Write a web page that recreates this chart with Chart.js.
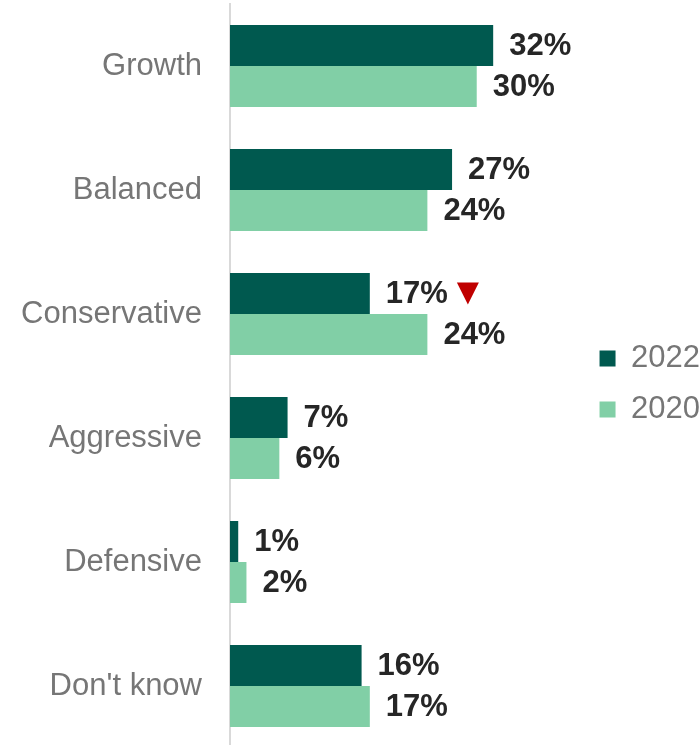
<!DOCTYPE html>
<html>
<head>
<meta charset="utf-8">
<title>Investment profile</title>
<script src="https://cdn.jsdelivr.net/npm/chart.js@4.4.1/dist/chart.umd.min.js"></script>
<style>
  html, body { margin: 0; padding: 0; background: #fff; overflow: hidden; }
  #wrap { position: relative; width: 710px; height: 750px; }
</style>
</head>
<body>
<div id="wrap"><canvas id="profileChart"></canvas></div>
<script>
// Categories and survey results (%)
const categories = ['Growth', 'Balanced', 'Conservative', 'Aggressive', 'Defensive', "Don't know"];
const values2022 = [32, 27, 17, 7, 1, 16];
const values2020 = [30, 24, 24, 6, 2, 17];
// significant change markers for 2022 vs 2020
const change2022 = ['', '', 'down', '', '', ''];

const FONT = 'Arial, "Liberation Sans", sans-serif';

// Value labels at the end of each bar, plus the red down arrow
const valueLabels = {
  id: 'valueLabels',
  afterDatasetsDraw(chart) {
    const ctx = chart.ctx;
    ctx.save();
    ctx.font = 'bold 31px ' + FONT;
    ctx.fillStyle = '#262626';
    ctx.textBaseline = 'middle';
    ctx.textAlign = 'left';
    chart.data.datasets.forEach((ds, di) => {
      const meta = chart.getDatasetMeta(di);
      meta.data.forEach((bar, i) => {
        const txt = ds.data[i] + '%';
        const x = bar.x + 16;
        ctx.fillText(txt, x, bar.y + 1);
        if (ds.markers && ds.markers[i] === 'down') {
          const tx = x + ctx.measureText(txt).width + 9;
          ctx.save();
          ctx.fillStyle = '#C00000';
          ctx.beginPath();
          ctx.moveTo(tx, bar.y - 11);
          ctx.lineTo(tx + 22, bar.y - 11);
          ctx.lineTo(tx + 11, bar.y + 11);
          ctx.closePath();
          ctx.fill();
          ctx.restore();
        }
      });
    });
    ctx.restore();
  }
};

const ctx = document.getElementById('profileChart').getContext('2d');
const profileChart = new Chart(ctx, {
  type: 'bar',
  data: {
    labels: categories,
    datasets: [{
      label: '2022',
      data: values2022,
      markers: change2022,
      backgroundColor: '#00594F',
      categoryPercentage: 0.66,
      barPercentage: 1.0
    }, {
      label: '2020',
      data: values2020,
      backgroundColor: '#81CFA6',
      categoryPercentage: 0.66,
      barPercentage: 1.0
    }]
  },
  options: {
    indexAxis: 'y',
    responsive: true,
    maintainAspectRatio: false,
    animation: false,
    layout: { padding: { top: 4, bottom: 2, left: 0, right: 0 } },
    scales: {
      x: {
        min: 0,
        max: 42.5,
        display: false,
        grid: { display: false }
      },
      y: {
        grid: { display: false, drawTicks: false },
        border: { display: true, color: '#D9D9D9', width: 2 },
        ticks: {
          color: '#767676',
          padding: 28,
          font: { family: FONT, size: 31 }
        },
        afterFit(scale) {
          // fixed gutter for the category names, no extra room above/below
          scale.width = 230;
          scale.paddingTop = 0;
          scale.paddingBottom = 0;
        }
      }
    },
    plugins: {
      legend: {
        display: true,
        position: 'right',
        // empty title only nudges the legend items down a little
        title: {
          display: true,
          text: '',
          font: { size: 1, lineHeight: 1 },
          padding: { top: 0, bottom: 15 }
        },
        labels: {
          boxWidth: 16,
          boxHeight: 16,
          padding: 20,
          color: '#767676',
          font: { family: FONT, size: 31 }
        }
      },
      tooltip: { enabled: false }
    }
  },
  plugins: [valueLabels]
});
</script>
</body>
</html>
